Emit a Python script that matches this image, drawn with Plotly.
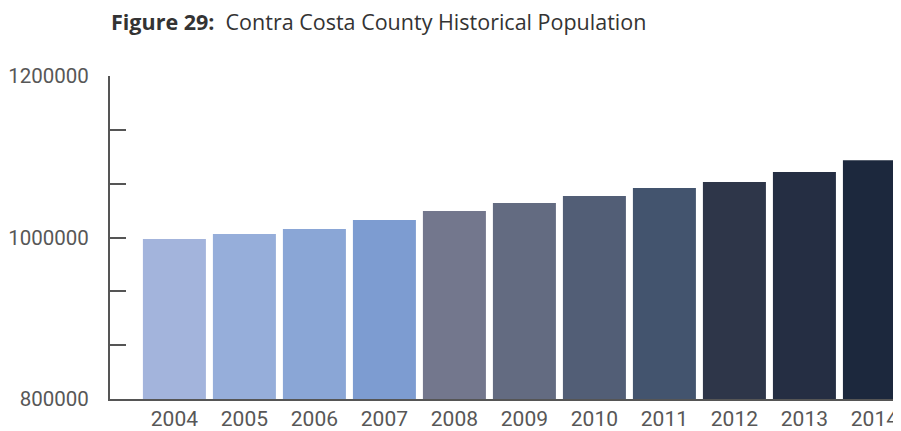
import plotly.graph_objects as go

years = ["2004", "2005", "2006", "2007", "2008", "2009", "2010", "2011", "2012", "2013", "2014"]
population = [998000, 1004300, 1010500, 1021600, 1032700, 1042600, 1051300, 1061200, 1068600, 1081000, 1095800]
bar_colors = ["#a3b4dc", "#96aeda", "#8aa6d6", "#7d9cd1", "#73778d", "#636b81",
              "#525e76", "#43546e", "#2e3649", "#252e43", "#1c283d"]
y_tick_values = [800000, 866667, 933333, 1000000, 1066667, 1133333, 1200000]
y_tick_labels = ["800000", "", "", "1000000", "", "", "1200000"]

x_font = dict(family="Roboto, sans-serif", size=21, color="#575757")
y_font = dict(family="Roboto, sans-serif", size=20.5, color="#575757")

fig = go.Figure(go.Bar(x=years, y=population, marker=dict(color=bar_colors, line=dict(width=0))))

# the page body adds an 8px offset, so margins are reduced accordingly
fig.update_layout(
    width=901, height=431,
    margin=dict(l=102, r=0, t=68, b=40, autoexpand=False),
    paper_bgcolor="white", plot_bgcolor="white",
    bargap=0.1,
    showlegend=False,
    title=dict(
        text="<b>Figure 29:</b>  Contra Costa County Historical Population",
        font=dict(family="Open Sans, sans-serif", size=21.5, color="#333333"),
        x=103 / 901, xanchor="left", xref="container",
        y=1 - 14 / 431, yanchor="middle", yref="container",
    ),
)

fig.update_xaxes(
    type="category", range=[-0.92, 10.494], automargin=False,
    showline=True, linecolor="#555555", linewidth=2,
    showgrid=False, ticks="", tickfont=x_font,
    ticklabelstandoff=0,
)
fig.update_yaxes(
    range=[800000, 1200000], automargin=False,
    tickvals=y_tick_values, ticktext=y_tick_labels,
    showline=True, linecolor="#555555", linewidth=2,
    ticks="inside", ticklen=16, tickwidth=2, tickcolor="#555555",
    showgrid=False, zeroline=False, tickfont=y_font,
    ticklabelstandoff=15,
)

fig.write_html("out.html")
